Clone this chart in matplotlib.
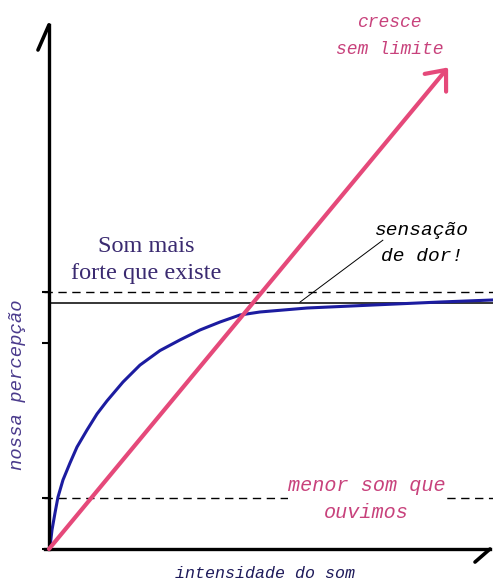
import matplotlib.pyplot as plt

# intensity / perception curves (arbitrary units)
intensity_lin = [0.0, 9.05]
perception_lin = [0.0, 9.95]

intensity_log = [0.0, 0.023, 0.068, 0.136, 0.204, 0.317, 0.476, 0.635, 0.862,
                 1.088, 1.315, 1.678, 2.063, 2.517, 2.971, 3.424, 3.878, 4.331,
                 4.785, 5.85, 7.347, 8.866, 10.068]
perception_log = [0.0, 0.041, 0.393, 0.744, 1.074, 1.426, 1.777, 2.107, 2.459,
                  2.79, 3.06, 3.45, 3.80, 4.10, 4.32, 4.525, 4.69, 4.835,
                  4.897, 4.979, 5.041, 5.103, 5.145]

pain_level = 5.08
loudest_level = 5.31
quietest_level = 1.05
tick_levels = [0.0, quietest_level, 4.26, loudest_level]

fig = plt.figure(figsize=(4.93, 5.82), dpi=100)
ax = fig.add_axes([0, 0, 1, 1])
ax.set_xlim(-1.111, 10.068)
ax.set_ylim(-0.682, 11.343)

# axes drawn as thick spines through the origin
for side in ["top", "right"]:
    ax.spines[side].set_visible(False)
ax.spines["left"].set_position(("data", 0))
ax.spines["bottom"].set_position(("data", 0))
ax.spines["left"].set_linewidth(2.4)
ax.spines["bottom"].set_linewidth(2.4)
ax.spines["left"].set_bounds(0, 10.83)
ax.spines["bottom"].set_bounds(-0.08, 10.0)
ax.set_xticks([])
ax.set_yticks(tick_levels)
ax.set_yticklabels([])
ax.tick_params(axis="y", direction="out", length=5, width=1.5)

# half arrow heads at the ends of the axes
ax.plot([0, -0.25], [10.83, 10.31], color="black", lw=2.6, solid_capstyle="round")
ax.plot([10.0, 9.66], [0.0, -0.27], color="black", lw=2.6, solid_capstyle="round")

# reference levels
dash = (0, (6, 4))
ax.axhline(loudest_level, xmin=0.09, color="black", lw=1, linestyle=dash)
ax.axhline(quietest_level, xmin=0.09, color="black", lw=1, linestyle=dash)
ax.axhline(pain_level, xmin=0.099, color="black", lw=1.1)

# linear growth
ax.annotate("", xy=(intensity_lin[1], perception_lin[1]),
            xytext=(intensity_lin[0], perception_lin[0]),
            arrowprops=dict(arrowstyle="->,head_length=1.2,head_width=1.0",
                            color="#e5497a", lw=3, mutation_scale=10,
                            shrinkA=0, shrinkB=0, capstyle="round"))

# logarithmic perception
ax.plot(intensity_log, perception_log, color="#1c1ca0", lw=2.2)

mono = ["Liberation Mono", "DejaVu Sans Mono"]
ax.text(7.72, 10.6, "cresce\nsem limite", color="#c8427c", fontsize=13,
        family=mono, style="italic", ha="center", va="center", linespacing=1.75)
ax.text(8.46, 6.32, "sensação\nde dor!", color="black", fontsize=14,
        family=mono, style="italic", ha="center", va="center", linespacing=1.7)
ax.plot([7.57, 5.69], [6.38, 5.10], color="black", lw=0.7)
ax.text(2.2, 5.97, "Som mais\nforte que existe", color="#3a2a70", fontsize=17.5,
        family="Liberation Serif", ha="center", va="center", linespacing=1.35)
ax.text(7.2, 1.03, "menor som que\nouvimos", color="#c8427c", fontsize=14.5,
        family=mono, style="italic", ha="center", va="center", linespacing=1.55,
        bbox=dict(facecolor="white", edgecolor="none", pad=0))
ax.text(-0.71, 3.39, "nossa percepção", color="#4a3a8c", fontsize=13.6,
        family=mono, style="italic", rotation=90, ha="center", va="center")
ax.text(4.9, -0.5, "intensidade do som", color="#1e1a5a", fontsize=12,
        family=mono, style="italic", ha="center", va="center")

fig.savefig("out.png", dpi=100)
